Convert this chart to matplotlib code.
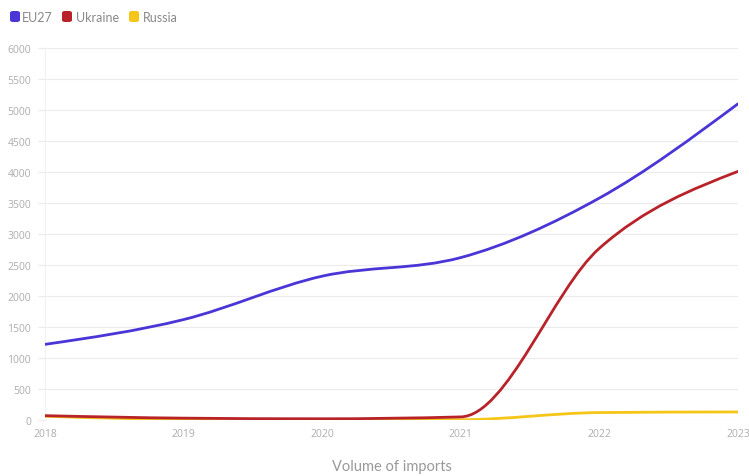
import numpy as np
import matplotlib
matplotlib.use("Agg")
import matplotlib.pyplot as plt
from matplotlib.path import Path
from matplotlib.patches import PathPatch, FancyBboxPatch

plt.rcParams['font.family'] = ['Lato', 'DejaVu Sans']

years = [2018, 2019, 2020, 2021, 2022, 2023]
eu27 = [1220, 1620, 2320, 2620, 3580, 5100]
ukraine = [70, 30, 20, 50, 2770, 4010]
russia = [60, 10, 5, 5, 120, 130]
series_names = ["EU27", "Ukraine", "Russia"]
colors = ["#4a35d6", "#b8232a", "#f5c518"]
yticks = [0, 500, 1000, 1500, 2000, 2500, 3000, 3500, 4000, 4500, 5000, 5500, 6000]


def monotone_path(x, y):
    x = np.asarray(x, float)
    y = np.asarray(y, float)
    n = len(x)
    h = np.diff(x)
    s = np.diff(y) / h
    t = np.zeros(n)
    for i in range(1, n - 1):
        p = (s[i - 1] * h[i] + s[i] * h[i - 1]) / (h[i - 1] + h[i])
        t[i] = (np.sign(s[i - 1]) + np.sign(s[i])) * min(abs(s[i - 1]), abs(s[i]), 0.5 * abs(p))
    t[0] = (3 * s[0] - t[1]) / 2 if n > 2 else s[0]
    t[-1] = (3 * s[-1] - t[-2]) / 2 if n > 2 else s[-1]
    verts = [(x[0], y[0])]
    codes = [Path.MOVETO]
    for i in range(n - 1):
        dx = h[i] / 3
        verts += [(x[i] + dx, y[i] + dx * t[i]), (x[i + 1] - dx, y[i + 1] - dx * t[i + 1]), (x[i + 1], y[i + 1])]
        codes += [Path.CURVE4] * 3
    return Path(verts, codes)


fig = plt.figure(figsize=(7.49, 4.77), dpi=100)
W, H = 749, 477
ax = fig.add_axes([45 / W, (H - 421) / H, (738 - 45) / W, (421 - 49) / H])

for vals, c, z in [(russia, colors[2], 3), (ukraine, colors[1], 4), (eu27, colors[0], 5)]:
    ax.add_patch(PathPatch(monotone_path(years, vals), facecolor='none', edgecolor=c,
                           lw=2.0, zorder=z, capstyle='round', joinstyle='round'))

ax.set_xlim(2018, 2023)
ax.set_ylim(0, 6000)
ax.set_yticks(yticks)
ax.set_xticks(years)
ax.set_xticklabels([str(y) for y in years])
ax.grid(axis='y', color='#ebebeb', lw=0.8, zorder=0)
for sp in ['top', 'right', 'bottom']:
    ax.spines[sp].set_visible(False)
ax.spines['left'].set_color('#f0f0f0')
ax.tick_params(axis='y', length=5, color='#ebebeb', labelcolor='#adadad', labelsize=7.5, pad=5)
ax.tick_params(axis='x', length=0, labelcolor='#adadad', labelsize=7.5, pad=6)
for lab in ax.get_xticklabels():
    lab.set_fontfamily(['Open Sans', 'DejaVu Sans'])
for lab in ax.get_yticklabels():
    lab.set_fontfamily(['Open Sans', 'DejaVu Sans'])
ax.set_xlabel("Volume of imports", color='#999999', fontsize=10.5, labelpad=14)

# legend
legend_items = [(10, 22, series_names[0], colors[0]),
                (62, 76, series_names[1], colors[1]),
                (129, 143, series_names[2], colors[2])]
for x0, tx, name, c in legend_items:
    fig.patches.append(FancyBboxPatch((x0 / W, (H - 23) / H), 10 / W, 11 / H,
                                      boxstyle="round,pad=0,rounding_size=0.004",
                                      transform=fig.transFigure, facecolor=c, edgecolor='none'))
    fig.text(tx / W, (H - 17.5) / H, name, color='#888888', fontsize=9, va='center', ha='left')

fig.savefig("out.png", dpi=100)
